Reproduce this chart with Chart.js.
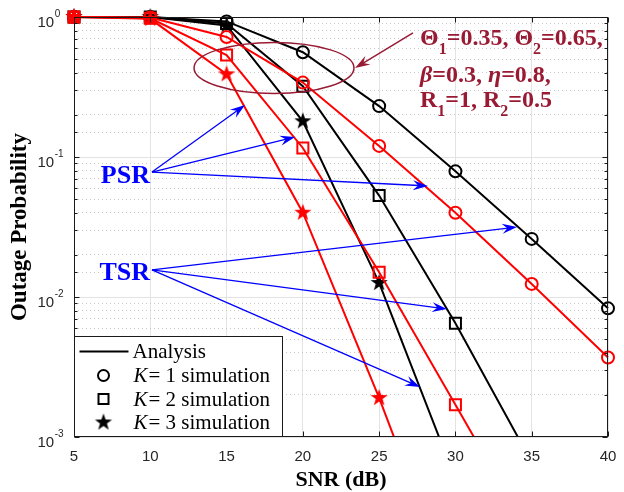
<!DOCTYPE html>
<html><head><meta charset="utf-8">
<script src="https://cdn.jsdelivr.net/npm/chart.js@4/dist/chart.umd.min.js"></script>
<style>html,body{margin:0;padding:0;background:#fff}#wrap{width:624px;height:492px;position:relative}</style>
</head><body><div id="wrap"><canvas id="c" width="624" height="492"></canvas></div>
<script>
// ---------- data ----------
const snr = [5, 10, 15, 20, 25, 30, 35, 40];
const xTicks = [5, 10, 15, 20, 25, 30, 35, 40];
const yDecades = [1e-3, 1e-2, 1e-1, 1];
const yTickExp = ['-3', '-2', '-1', '0'];
// TSR (black)
const tsrK1 = [1.0, 1.0, 0.93, 0.56, 0.231, 0.079, 0.026, 0.0083];
const tsrK2 = [1.0, 1.0, 0.90, 0.32, 0.053, 0.0065, 0.00066, null];
const tsrK3 = [1.0, 1.0, 0.87, 0.18, 0.0126, 0.0005, null, null];
// PSR (red)
const psrK1 = [1.0, 0.99, 0.72, 0.34, 0.12, 0.04, 0.0124, 0.0037];
const psrK2 = [1.0, 0.98, 0.535, 0.116, 0.015, 0.0017, 0.00019, null];
const psrK3 = [1.0, 0.97, 0.39, 0.04, 0.0019, 0.00007, null, null];
const legendLabels = ['Analysis', '= 1 simulation', '= 2 simulation', '= 3 simulation'];

const RED = '#ff0000', BLACK = '#000000', DARKRED = '#991a33', BLUE = '#0000ff';

function starCanvas(color, R) {
  const r = R * 0.4, s = Math.ceil(R * 2 + 4);
  const c = document.createElement('canvas'); c.width = s; c.height = s;
  const g = c.getContext('2d'); g.fillStyle = color; g.beginPath();
  for (let i = 0; i < 10; i++) {
    const a = -Math.PI / 2 + i * Math.PI / 5, rr = i % 2 ? r : R;
    g.lineTo(s / 2 + rr * Math.cos(a), s / 2 + rr * Math.sin(a));
  }
  g.closePath(); g.fill(); return c;
}
const starRed = starCanvas(RED, 9), starBlack = starCanvas(BLACK, 9);

function ds(label, data, color, style, radius) {
  return {
    label, data: snr.map((x, i) => ({x, y: data[i]})),
    borderColor: color, backgroundColor: color, borderWidth: 2,
    pointStyle: style, pointRadius: radius, pointHoverRadius: radius,
    pointBorderColor: color, pointBackgroundColor: 'rgba(0,0,0,0)', pointBorderWidth: 2,
    tension: 0, clip: {left: 14, top: 14, right: 14, bottom: 0}
  };
}
const datasets = [
  ds('PSR K=1', psrK1, RED, 'circle', 6),
  ds('PSR K=2', psrK2, RED, 'rect', 7.8),
  ds('PSR K=3', psrK3, RED, starRed, 8),
  ds('TSR K=1', tsrK1, BLACK, 'circle', 6),
  ds('TSR K=2', tsrK2, BLACK, 'rect', 7.8),
  ds('TSR K=3', tsrK3, BLACK, starBlack, 8)
];

function isDecade(v) { return yDecades.some(d => Math.abs(Math.log10(v) - Math.log10(d)) < 1e-6); }

function arrow(ctx, x1, y1, x2, y2, color, lw, L, W) {
  const a = Math.atan2(y2 - y1, x2 - x1), ux = Math.cos(a), uy = Math.sin(a), nx = -uy, ny = ux;
  ctx.save(); ctx.strokeStyle = color; ctx.fillStyle = color; ctx.lineWidth = lw;
  ctx.beginPath(); ctx.moveTo(x1, y1); ctx.lineTo(x2 - 0.6 * L * ux, y2 - 0.6 * L * uy); ctx.stroke();
  ctx.beginPath(); ctx.moveTo(x2, y2);
  ctx.lineTo(x2 - L * ux + W / 2 * nx, y2 - L * uy + W / 2 * ny);
  ctx.lineTo(x2 - 0.65 * L * ux, y2 - 0.65 * L * uy);
  ctx.lineTo(x2 - L * ux - W / 2 * nx, y2 - L * uy - W / 2 * ny);
  ctx.closePath(); ctx.fill(); ctx.restore();
}

// parts: [text, mode] mode: 'n' normal, 's' subscript, 'i' italic
function rich(ctx, x, y, parts, size, color) {
  ctx.save(); ctx.fillStyle = color; ctx.textBaseline = 'alphabetic'; ctx.textAlign = 'left';
  let cx = x;
  for (const [t, m] of parts) {
    if (m === 's') { ctx.font = 'bold ' + Math.round(size * 0.68) + 'px "Liberation Serif"'; ctx.fillText(t, cx, y + 9); }
    else if (m === 'i') { ctx.font = 'italic bold ' + size + 'px "Liberation Serif"'; ctx.fillText(t, cx, y); }
    else { ctx.font = 'bold ' + size + 'px "Liberation Serif"'; ctx.fillText(t, cx, y); }
    cx += ctx.measureText(t).width;
  }
  ctx.restore();
}

const decor = {
  id: 'decor',
  afterDatasetsDraw(chart) {
    const {ctx, scales: {x, y}} = chart;
    const P = (dx, dy) => [x.getPixelForValue(dx), y.getPixelForValue(dy)];
    // ellipse
    const [ex, ey] = P(18.11, 0.433);
    ctx.save(); ctx.strokeStyle = DARKRED; ctx.lineWidth = 1.5;
    ctx.beginPath(); ctx.ellipse(ex, ey, 80, 25.5, 0, 0, Math.PI * 2); ctx.stroke(); ctx.restore();
    const [a1, b1] = P(27.22, 0.769), [a2, b2] = P(23.42, 0.432);
    arrow(ctx, a1, b1, a2, b2, DARKRED, 1.5, 15, 10);
    // parameter text
    const tx = x.getPixelForValue(27.68);
    rich(ctx, tx, y.getPixelForValue(0.631), [['Θ', 'n'], ['1', 's'], ['=0.35, Θ', 'n'], ['2', 's'], ['=0.65,', 'n']], 24, DARKRED);
    rich(ctx, tx, y.getPixelForValue(0.343), [['β', 'i'], ['=0.3, ', 'n'], ['η', 'i'], ['=0.8,', 'n']], 24, DARKRED);
    rich(ctx, tx, y.getPixelForValue(0.2276), [['R', 'n'], ['1', 's'], ['=1, R', 'n'], ['2', 's'], ['=0.5', 'n']], 24, DARKRED);
    // PSR / TSR
    ctx.save(); ctx.fillStyle = BLUE; ctx.font = 'bold 26px "Liberation Serif"'; ctx.textAlign = 'right'; ctx.textBaseline = 'alphabetic';
    ctx.fillText('PSR', x.getPixelForValue(9.98), y.getPixelForValue(0.0652));
    ctx.fillText('TSR', x.getPixelForValue(9.98), y.getPixelForValue(0.0132));
    ctx.restore();
    const [ps1, ps2] = P(10.11, 0.0781);
    [[16.21, 0.235], [19.49, 0.139], [28.20, 0.0621]].forEach(([dx, dy]) => { const [q1, q2] = P(dx, dy); arrow(ctx, ps1, ps2, q1, q2, BLUE, 1.3, 15, 10); });
    const [ts1, ts2] = P(10.11, 0.0156);
    [[34.04, 0.0316], [29.45, 0.0082], [27.68, 0.00228]].forEach(([dx, dy]) => { const [q1, q2] = P(dx, dy); arrow(ctx, ts1, ts2, q1, q2, BLUE, 1.3, 15, 10); });
  },
  afterDraw(chart) {
    const {ctx, chartArea: ca, scales: {x, y, y2}} = chart;
    const L = Math.round(ca.left) + 0.5, R = Math.round(ca.right) - 0.5, T = Math.round(ca.top) + 0.5, B = Math.round(ca.bottom) - 0.5;
    ctx.save();
    ctx.strokeStyle = '#1a1a1a'; ctx.lineWidth = 1;
    ctx.strokeRect(L, T, R - L, B - T);
    // inner tick marks
    ctx.beginPath();
    x.ticks.forEach(t => { const px = Math.round(x.getPixelForValue(t.value)) + 0.5; ctx.moveTo(px, B); ctx.lineTo(px, B - 5); ctx.moveTo(px, T); ctx.lineTo(px, T + 5); });
    y.ticks.forEach(t => { const py = Math.round(y.getPixelForValue(t.value)) + 0.5; ctx.moveTo(L, py); ctx.lineTo(L + 5, py); ctx.moveTo(R, py); ctx.lineTo(R - 5, py); });
    y2.ticks.forEach(t => { const py = Math.round(y2.getPixelForValue(t.value)) + 0.5; ctx.moveTo(L, py); ctx.lineTo(L + 3, py); ctx.moveTo(R, py); ctx.lineTo(R - 3, py); });
    ctx.stroke();
    // y tick labels 10^n
    ctx.fillStyle = '#262626'; ctx.textBaseline = 'alphabetic'; ctx.textAlign = 'left';
    yDecades.forEach((v, i) => {
      const py = y.getPixelForValue(v);
      ctx.font = '15px "Liberation Sans"'; ctx.fillText('10', 37.5, py + 10);
      const w = ctx.measureText('10').width;
      ctx.font = '10px "Liberation Sans"'; ctx.fillText(yTickExp[i], 37.5 + w + 0.5, py - 0.5);
    });
    // legend
    const lx = L, lb = B, lw = 208, lh = 100;
    ctx.fillStyle = '#fff'; ctx.fillRect(lx, lb - lh, lw, lh);
    ctx.strokeStyle = '#1a1a1a'; ctx.lineWidth = 1; ctx.strokeRect(lx, lb - lh, lw, lh);
    const rows = [lb - 85, lb - 61, lb - 37.5, lb - 14];
    ctx.strokeStyle = BLACK; ctx.lineWidth = 2;
    ctx.beginPath(); ctx.moveTo(lx + 5, rows[0]); ctx.lineTo(lx + 54, rows[0]); ctx.stroke();
    const mx = lx + 29;
    ctx.beginPath(); ctx.arc(mx, rows[1], 5.5, 0, Math.PI * 2); ctx.stroke();
    ctx.strokeRect(mx - 5, rows[2] - 5, 10, 10);
    ctx.drawImage(starBlack, mx - starBlack.width / 2, rows[3] - starBlack.height / 2);
    ctx.fillStyle = BLACK; ctx.font = '21px "Liberation Serif"';
    ctx.fillText(legendLabels[0], lx + 58, rows[0] + 6.5);
    for (let i = 1; i < 4; i++) {
      ctx.font = 'italic 21px "Liberation Serif"'; ctx.fillText('K', lx + 59, rows[i] + 6.5);
      const kw = ctx.measureText('K').width;
      ctx.font = '21px "Liberation Serif"'; ctx.fillText(legendLabels[i], lx + 60 + kw, rows[i] + 6.5);
    }
    ctx.restore();
  }
};

new Chart(document.getElementById('c'), {
  type: 'line',
  data: {datasets},
  options: {
    responsive: false, animation: false, devicePixelRatio: 1,
    layout: {padding: {top: 17, right: 16, left: 0, bottom: 0}},
    plugins: {legend: {display: false}, tooltip: {enabled: false}},
    scales: {
      x: {
        type: 'linear', min: 5, max: 40,
        afterBuildTicks: s => { s.ticks = xTicks.map(v => ({value: v})); },
        ticks: {font: {family: 'Liberation Sans', size: 15}, color: '#262626', padding: 11, maxRotation: 0, autoSkip: false},
        grid: {color: '#e3e3e3', drawTicks: false, lineWidth: 1},
        border: {display: false},
        title: {display: true, text: 'SNR (dB)', color: '#000', font: {family: 'Liberation Serif', size: 22, weight: 'bold'}, padding: {top: 0, bottom: -2}},
        afterFit: s => { s.height = 55; s.paddingLeft = 0; s.paddingRight = 0; }
      },
      y: {
        type: 'logarithmic', min: 1e-3, max: 1, position: 'left',
        afterBuildTicks: s => { s.ticks = yDecades.map(v => ({value: v, major: true})); },
        ticks: {display: false},
        grid: {color: '#e3e3e3', drawTicks: false, lineWidth: 1},
        border: {display: false},
        title: {display: true, text: 'Outage Probability', color: '#000', font: {family: 'Liberation Serif', size: 23, weight: 'bold'}, padding: {top: 6, bottom: 0}},
        afterFit: s => { s.width = 74; s.paddingTop = 0; s.paddingBottom = 0; }
      },
      y2: {
        type: 'logarithmic', min: 1e-3, max: 1, position: 'left',
        afterBuildTicks: s => { s.ticks = s.ticks.filter(t => !isDecade(t.value)); },
        ticks: {display: false},
        grid: {color: '#c8c8c8', drawTicks: false, lineWidth: 1},
        border: {display: false, dash: [1, 3]},
        afterFit: s => { s.width = 0; s.paddingTop = 0; s.paddingBottom = 0; }
      }
    }
  },
  plugins: [decor]
});
</script>
</body></html>
